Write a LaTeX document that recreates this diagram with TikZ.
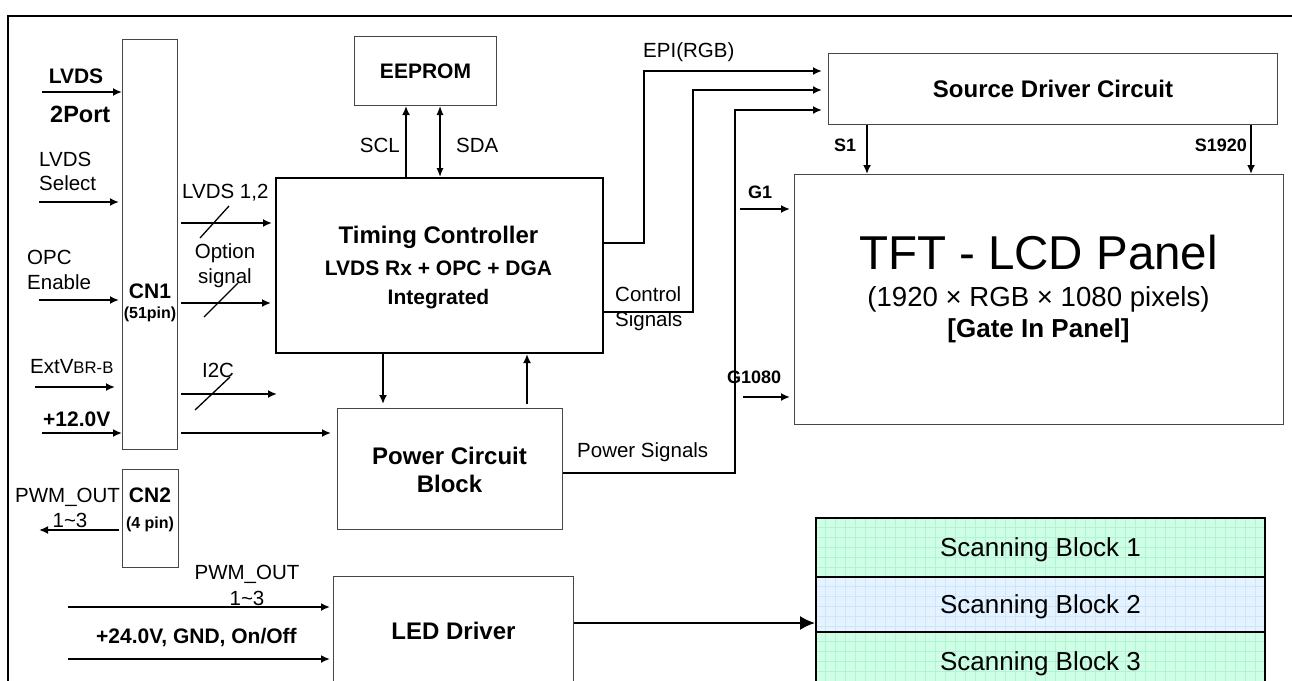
\documentclass[tikz,border=0pt]{standalone}
\usepackage{fontspec}
\setmainfont{Liberation Sans}
\usetikzlibrary{arrows.meta}
\definecolor{grnfill}{RGB}{206,255,230}
\definecolor{grngrid}{RGB}{178,243,212}
\definecolor{blufill}{RGB}{228,243,255}
\definecolor{blugrid}{RGB}{206,229,250}
\definecolor{edgegray}{RGB}{70,70,70}
\begin{document}
\begin{tikzpicture}[x=1pt,y=-1pt,
  conn/.style={line width=1.8pt},
  arr/.style={conn,-{Latex[length=9pt,width=8pt]}},
  slash/.style={line width=1.3pt},
  thinbox/.style={draw=edgegray,line width=1pt,inner sep=0pt,anchor=north west},
  rl/.style={font=\fontsize{20.5}{24}\selectfont,inner sep=0pt},
  bl/.style={font=\bfseries\fontsize{21}{25}\selectfont,inner sep=0pt},
  bbig/.style={font=\bfseries\fontsize{24}{28}\selectfont,inner sep=0pt},
  sbl/.style={font=\bfseries\fontsize{18}{22}\selectfont,inner sep=0pt},
  tbl/.style={font=\bfseries\fontsize{16}{19}\selectfont,inner sep=0pt},
  scanbox/.style={draw,line width=2pt,inner sep=0pt,anchor=north west,minimum width=449pt,
    font=\fontsize{26}{30}\selectfont,text height=18.6pt,text depth=0pt},
]
\clip (0,0) rectangle (1292,680);
\fill[white] (0,0) rectangle (1292,680);
% outer frame
\draw[line width=2pt] (8,700) -- (8,16) -- (1300,16);

% ---------- boxes ----------
\node[thinbox,minimum width=55pt,minimum height=410pt] (cn1) at (122,39) {};
\node[thinbox,minimum width=56pt,minimum height=98pt] (cn2) at (122,469) {};
\node[thinbox,minimum width=142pt,minimum height=69pt,bl] (eeprom) at (354,36) {EEPROM};
\node[draw,line width=2pt,inner sep=0pt,anchor=north west,minimum width=327pt,minimum height=175pt] (tc) at (275,177) {};
\node[thinbox,minimum width=225pt,minimum height=121pt] (pwr) at (337,408) {};
\node[thinbox,minimum width=240pt,minimum height=108pt,bbig] (led) at (333,576) {LED Driver};
\node[thinbox,minimum width=449pt,minimum height=71pt,bbig,text height=17pt,text depth=0pt] (src) at (828,53) {Source Driver Circuit};
\node[thinbox,minimum width=489pt,minimum height=250pt] (panel) at (794,174) {};

% scanning blocks: fills and grid
\fill[grnfill] (815,517) rectangle (1264,576);
\fill[blufill] (815,576) rectangle (1264,631);
\fill[grnfill] (815,631) rectangle (1264,700);
\foreach \gx in {825,835,...,1260} {
  \draw[grngrid,line width=0.6pt] (\gx,517) -- (\gx,576);
  \draw[blugrid,line width=0.6pt] (\gx,576) -- (\gx,631);
  \draw[grngrid,line width=0.6pt] (\gx,631) -- (\gx,700);
}
\foreach \gy in {527,537,...,575} \draw[grngrid,line width=0.6pt] (815,\gy) -- (1264,\gy);
\foreach \gy in {586,596,...,630} \draw[blugrid,line width=0.6pt] (815,\gy) -- (1264,\gy);
\foreach \gy in {641,651,...,700} \draw[grngrid,line width=0.6pt] (815,\gy) -- (1264,\gy);
\node[scanbox,minimum height=59pt] (sb1) at (815,517) {Scanning Block 1};
\node[scanbox,minimum height=55pt] (sb2) at (815,576) {Scanning Block 2};
\node[scanbox,minimum height=58pt] (sb3) at (815,631) {Scanning Block 3};

% ---------- box texts ----------
\node[bl,anchor=base] (cn1t) at (150,298) {CN1};
\node[tbl,anchor=base] (cn1p) at (150,318) {(51pin)};
\node[bl,anchor=base] (cn2t) at (150,502) {CN2};
\node[tbl,anchor=base] (cn2p) at (150,528) {(4 pin)};
\node[bbig,anchor=base] (tct1) at (438.5,243) {Timing Controller};
\node[bl,anchor=base] (tct2) at (438.5,275) {LVDS Rx + OPC + DGA};
\node[bl,anchor=base] (tct3) at (438.5,304) {Integrated};
\node[bbig,anchor=base] (pwt1) at (449.5,464) {Power Circuit};
\node[bbig,anchor=base] (pwt2) at (449.5,492) {Block};
\node[font=\fontsize{47.5}{52}\selectfont,inner sep=0pt,anchor=base] (pnt1) at (1038.5,269) {TFT - LCD Panel};
\node[font=\fontsize{27.6}{31}\selectfont,inner sep=0pt,anchor=base] (pnt2) at (1038.5,306) {(1920 × RGB × 1080 pixels)};
\node[font=\bfseries\fontsize{26}{30}\selectfont,inner sep=0pt,anchor=base] (pnt3) at (1038.5,337) {[Gate In Panel]};

% ---------- helper coordinates ----------
\coordinate (cn1out) at ([xshift=3pt]cn1.east);
\coordinate (srcin) at ([xshift=-6pt]src.west);
\coordinate (panelin) at ([xshift=-4pt]panel.west);
\coordinate (pwrin) at ([xshift=-6pt]pwr.west);
\coordinate (ledin) at ([xshift=-3pt]led.west);
\coordinate (pwrtop) at ([yshift=4pt]pwr.north);
\coordinate (sclx) at (406,0);
\coordinate (sdax) at (440,0);
\coordinate (tpd) at (383,0);
\coordinate (tpu) at (527,0);
\coordinate (s1x) at (867,0);
\coordinate (s2x) at (1251,0);
\coordinate (inA) at (42,92);
\coordinate (inB) at (39,202);
\coordinate (inC) at (39,300);
\coordinate (inD) at (35,387);
\coordinate (inE) at (42,433);
\coordinate (outI2C) at (277,394);
\coordinate (outPWM) at (39,530);
\coordinate (inF) at (68,607);
\coordinate (inG) at (68,659);
\coordinate (epiC) at (644,71);
\coordinate (ctlC) at (693,90);
\coordinate (pwsC) at (735,110);
\coordinate (g1s) at (740,209);
\coordinate (g2s) at (743,397);

% ---------- left inputs ----------
\node[bl,anchor=base] (lA1) at (76,83) {LVDS};
\node[font=\bfseries\fontsize{23.5}{27}\selectfont,inner sep=0pt,anchor=base west] (lA2) at (50,122) {2Port};
\draw[arr] (inA) -- (cn1.west |- inA);
\node[rl,anchor=base west] (lB1) at (39,166) {LVDS};
\node[rl,anchor=base west] (lB2) at (39,190) {Select};
\draw[arr] (inB) -- ([xshift=-3pt]cn1.west |- inB);
\node[rl,anchor=base west] (lC1) at (27,264) {OPC};
\node[rl,anchor=base west] (lC2) at (27,289) {Enable};
\draw[arr] (inC) -- ([xshift=-3pt]cn1.west |- inC);
\node[rl,anchor=base west] (lD) at (30,373) {ExtV{\fontsize{16.7}{20}\selectfont BR-B}};
\draw[arr] (inD) -- ([xshift=-7pt]cn1.west |- inD);
\node[bl,anchor=base west] (lE) at (43,426) {+12.0V};
\draw[arr] (inE) -- (cn1.west |- inE);

% ---------- CN1 outputs ----------
\node[rl,anchor=base west] (lLV) at (182,198) {LVDS 1,2};
\draw[arr] (cn1out |- 0,223) -- ([xshift=-3pt]tc.west |- 0,223);
\draw[slash] (200,238) -- (229,206);
\node[rl,anchor=base] (lOp1) at (225,258) {Option};
\node[rl,anchor=base] (lOp2) at (225,283) {signal};
\draw[arr] (cn1out |- 0,303) -- ([xshift=-4pt]tc.west |- 0,303);
\draw[slash] (204,317) -- (238,283);
\node[rl,anchor=base] (lI2C) at (218,377) {I2C};
\draw[arr] (cn1out |- outI2C) -- (outI2C);
\draw[slash] (195,410) -- (230,377);
\draw[arr] (cn1out |- inE) -- (pwrin |- inE);

% ---------- CN2 / LED ----------
\node[rl,anchor=base west] (lP1) at (15,502) {PWM\_OUT};
\node[rl,anchor=base] (lP2) at (70,527) {1\textasciitilde 3};
\draw[arr] ([xshift=-3pt]cn2.west |- outPWM) -- (outPWM);
\node[rl,anchor=base] (lQ1) at (247,579) {PWM\_OUT};
\node[rl,anchor=base] (lQ2) at (247,605) {1\textasciitilde 3};
\draw[arr] (inF) -- (ledin |- inF);
\node[bl,anchor=base west] (lR) at (96,643) {+24.0V, GND, On/Off};
\draw[arr] (inG) -- (ledin |- inG);
\draw[conn,-{Latex[length=15pt,width=14pt]}] (led.east |- 0,623) -- (sb2.west |- 0,623);

% ---------- EEPROM ----------
\draw[line width=2pt,-{Latex[length=9pt,width=8pt]}] (tc.north -| sclx) -- (eeprom.south -| sclx);
\draw[line width=1.2pt,{Latex[length=9pt,width=7pt]}-{Latex[length=9pt,width=7pt]}] (eeprom.south -| sdax) -- (tc.north -| sdax);
\node[rl,anchor=base east] (lSCL) at (400,152) {SCL};
\node[rl,anchor=base west] (lSDA) at (456,152) {SDA};

% ---------- TC <-> power ----------
\draw[arr] (tc.south -| tpd) -- (pwrtop -| tpd);
\draw[arr] (pwrtop -| tpu) -- (tc.south -| tpu);

% ---------- to source driver ----------
\draw[arr] (tc.east |- 0,243) -| (epiC) -- (srcin |- epiC);
\node[rl,anchor=base west] (lEPI) at (643,57) {EPI(RGB)};
\draw[arr] (tc.east |- 0,312) -| (ctlC) -- (srcin |- ctlC);
\node[rl,anchor=base west] (lCt1) at (615,301) {Control};
\node[rl,anchor=base west] (lCt2) at (615,326) {Signals};
\draw[arr] (pwr.east |- 0,473) -| (pwsC) -- (srcin |- pwsC);
\node[rl,anchor=base west] (lPS) at (577,457) {Power Signals};

% ---------- source -> panel, gate ----------
\draw[arr] (src.south -| s1x) -- (panel.north -| s1x);
\draw[arr] (src.south -| s2x) -- (panel.north -| s2x);
\node[sbl,anchor=base] (lS1) at (845,151) {S1};
\node[sbl,anchor=base east] (lS2) at (1247,151) {S1920};
\draw[arr] (g1s) -- (panelin |- g1s);
\draw[arr] (g2s) -- (panelin |- g2s);
\node[sbl,anchor=base] (lG1) at (760,198) {G1};
\node[sbl,anchor=base west] (lG2) at (727,383) {G1080};
\end{tikzpicture}
\end{document}
